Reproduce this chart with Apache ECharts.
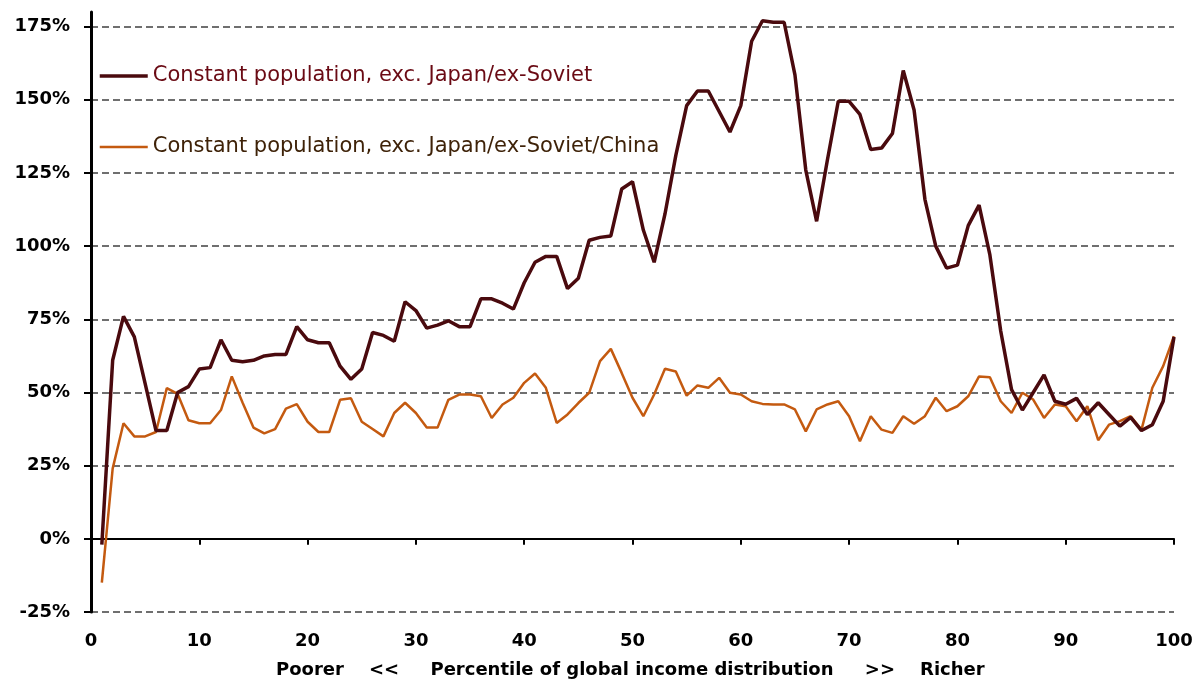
<!DOCTYPE html>
<html>
<head>
<meta charset="utf-8">
<script src="https://cdn.jsdelivr.net/npm/echarts@6/dist/echarts.min.js"></script>
<style>
html,body{margin:0;padding:0;background:#fff;}
#chart{width:1202px;height:686px;}
</style>
</head>
<body>
<div id="chart"></div>
<script>
const percentiles = [1,2,3,4,5,6,7,8,9,10,11,12,13,14,15,16,17,18,19,20,
  21,22,23,24,25,26,27,28,29,30,31,32,33,34,35,36,37,38,39,40,
  41,42,43,44,45,46,47,48,49,50,51,52,53,54,55,56,57,58,59,60,
  61,62,63,64,65,66,67,68,69,70,71,72,73,74,75,76,77,78,79,80,
  81,82,83,84,85,86,87,88,89,90,91,92,93,94,95,96,97,98,99,100];

const exJapanSoviet = [-2,61,76,69,53,37,37,50,52,58,
  58.5,68,61,60.5,61,62.5,63,63,72.5,68,
  67,67,59,54.5,58,70.5,69.5,67.5,81,78,
  72,73,74.5,72.5,72.5,82,82,80.5,78.5,87.5,
  94.5,96.5,96.5,85.5,89,102,103,103.5,119.5,122,
  105.5,94.5,111,131,148,153,153,146,139,148,
  170,177,176.5,176.5,158.5,126,108.5,129.5,149.5,149.5,
  145,133,133.5,138.5,160,146.5,116,100,92.5,93.5,
  107,114,97,71,51,44,50,56,47,46,
  48,42.5,46.5,42.5,38.5,41.5,37,39,47,69];

const exJapanSovietChina = [-15,24,39.5,35,35,36.5,51.5,49.5,40.5,39.5,
  39.5,44,55.5,46.5,38,36,37.5,44.5,46,40,
  36.5,36.5,47.5,48,40,37.5,35,43,46.5,43,
  38,38,47.5,49.3,49.3,48.7,41.3,45.9,48.2,53.3,
  56.5,51.6,39.6,42.5,46.4,49.9,60.7,64.9,56.7,48.2,
  41.9,49.3,58.1,57.2,48.9,52.4,51.6,55,49.9,49.3,
  47,46.1,45.9,45.9,44.2,36.7,44.2,45.9,47,41.9,
  33.3,41.9,37.3,36.2,41.9,39.3,41.9,48.2,43.6,45.3,
  48.7,55.5,55.2,47,43,49.9,47.6,41.3,45.9,45.3,
  40.2,45.3,33.7,39,40.2,41.9,37.3,51.6,59,69.2];

const yTicks = [-25,0,25,50,75,100,125,150,175];
const seriesNames = ['Constant population, exc. Japan/ex-Soviet',
                     'Constant population, exc. Japan/ex-Soviet/China'];
const xTitle = 'Poorer    <<     Percentile of global income distribution     >>    Richer';

const pairs = (vals) => percentiles.map((p, i) => [p, vals[i]]);
const FONT = '"DejaVu Sans", sans-serif';

const chart = echarts.init(document.getElementById('chart'), null, {renderer: 'canvas'});
chart.setOption({
  animation: false,
  backgroundColor: '#ffffff',
  title: {
    text: xTitle,
    left: 276, top: 661, padding: 0,
    textStyle: {fontFamily: FONT, fontSize: 18, fontWeight: 'bold', color: '#000'}
  },
  legend: {
    orient: 'vertical',
    left: 93, top: 59,
    itemWidth: 48, itemHeight: 14,
    itemGap: 47,
    itemStyle: {opacity: 0},
    textStyle: {fontFamily: FONT, fontSize: 21, lineHeight: 24},
    data: [
      {name: seriesNames[0], textStyle: {color: '#6a0a14'}, lineStyle: {width: 3.5, color: '#4a0a0e'}},
      {name: seriesNames[1], textStyle: {color: '#3e2208'}, lineStyle: {width: 2.5, color: '#c45a10'}}
    ]
  },
  grid: {left: 91, right: 28, top: 12, bottom: 74, outerBoundsMode: 'none'},
  xAxis: [
    {
      type: 'value', min: 0, max: 100, interval: 10, position: 'bottom',
      axisLine: {show: false, onZero: false},
      axisTick: {show: false},
      splitLine: {show: false},
      axisLabel: {margin: 20, fontFamily: FONT, fontSize: 18, fontWeight: 'bold', color: '#000'}
    },
    {
      type: 'value', min: 0, max: 100, interval: 10, position: 'bottom',
      axisLine: {show: true, onZero: true, lineStyle: {color: '#000', width: 2}},
      axisTick: {show: true, length: 6, lineStyle: {color: '#000', width: 2}},
      splitLine: {show: false},
      axisLabel: {show: false}
    }
  ],
  yAxis: {
    type: 'value', min: -25, max: 180, interval: 25,
    axisLine: {show: true, lineStyle: {color: '#000', width: 3}},
    axisTick: {show: true, length: 7, customValues: yTicks, lineStyle: {color: '#000', width: 2}},
    axisLabel: {
      customValues: yTicks,
      margin: 21, fontFamily: FONT, fontSize: 18, fontWeight: 'bold', color: '#000',
      formatter: (v) => v + '%'
    },
    splitLine: {show: true, lineStyle: {color: '#6f6f6f', width: 2, type: [7, 4]}}
  },
  series: [
    {
      name: seriesNames[0], type: 'line', xAxisIndex: 0, data: pairs(exJapanSoviet),
      symbol: 'none', z: 4,
      lineStyle: {color: '#4a0a0e', width: 3.5},
      itemStyle: {color: '#4a0a0e'}
    },
    {
      name: seriesNames[1], type: 'line', xAxisIndex: 0, data: pairs(exJapanSovietChina),
      symbol: 'none', z: 3,
      lineStyle: {color: '#c45a10', width: 2.5},
      itemStyle: {color: '#c45a10'}
    }
  ]
});
</script>
</body>
</html>
